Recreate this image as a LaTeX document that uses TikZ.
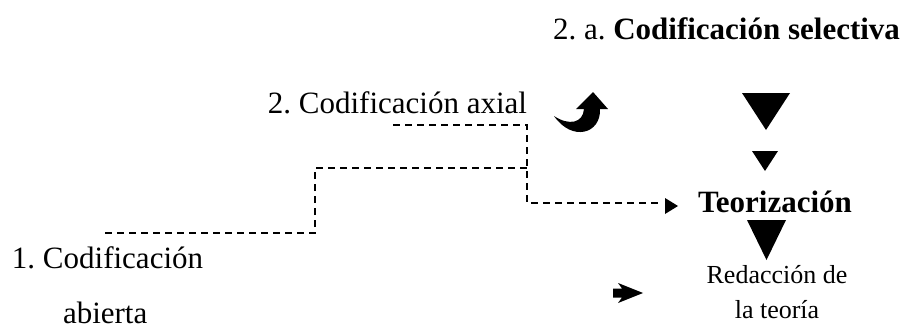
\documentclass[tikz,border=0pt]{standalone}
\usepackage{fontspec}
\setmainfont{Liberation Serif}
\begin{document}
\frenchspacing
\begin{tikzpicture}[x=1pt,y=-1pt,
  big/.style={font=\fontsize{31}{37}\selectfont, inner sep=0pt, outer sep=0pt},
  small/.style={font=\fontsize{26}{31}\selectfont, inner sep=0pt, outer sep=0pt},
  dashline/.style={line width=1.6pt, dash pattern=on 7pt off 5pt},
  solidfill/.style={fill=black, draw=none}]
\useasboundingbox (0,0) rectangle (913,329);

% texts
\node[big, anchor=base west] (sel) at (553,40) {2. a. \textbf{Codificación selectiva}};
\node[big, anchor=base east] (axial) at (527,113) {2. Codificación axial};
\node[big, anchor=base west] (open1) at (12,268) {1. Codificación};
\node[big, anchor=base west] (open2) at (63,323) {abierta};
\node[big, anchor=base west] (teo) at (698,212) {\textbf{Teorización}};
\node[small, anchor=base] (red1) at (777,283) {Redacción de};
\node[small, anchor=base] (red2) at (777,318) {la teoría};

% dashed steps
\coordinate (s0) at (105,233);
\coordinate (s1) at (315,233);
\coordinate (s2) at (315,168);
\coordinate (s3) at (527,168);
\coordinate (a0) at (393,125);
\coordinate (a1) at (527,125);
\coordinate (a2) at (527,203);
\coordinate (a3) at (662,203);
\draw[dashline] (s0) -- (s1) -- (s2) -- (s3);
\draw[dashline] (a0) -- (a1) -- (a2) -- (a3);
\fill[solidfill] (665,198) -- (678,206) -- (665,214) -- cycle;

% curved up arrow
\fill[solidfill] (576,109) -- (593,92) -- (608,109) -- (600,109)
  .. controls (601,134) and (572,142) .. (554,116)
  .. controls (569,126) and (583,123) .. (584,109) -- cycle;

% down triangles
\fill[solidfill] (742,93) -- (790,93) -- (766,130) -- cycle;
\fill[solidfill] (752,151) -- (778,151) -- (765,171) -- cycle;
\fill[solidfill] (747,220) -- (786,220) -- (766.5,260) -- cycle;

% small right arrow
\fill[solidfill] (613,288.5) -- (622,288.5) -- (618,283) -- (643,293)
  -- (618,303) -- (622,297.5) -- (613,297.5) -- cycle;
\end{tikzpicture}
\end{document}
